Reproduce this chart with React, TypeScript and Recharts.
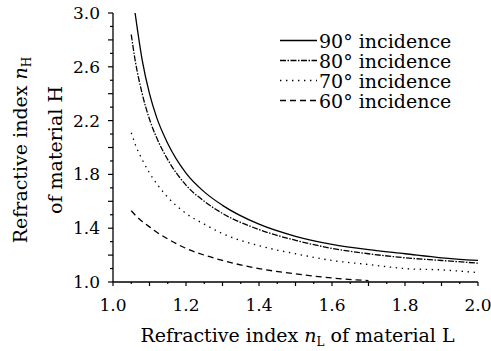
import { LineChart, Line, XAxis, YAxis, Legend, Label } from 'recharts';

// refractive index of material L (x)
const nL = [1.05, 1.06, 1.08, 1.1, 1.12, 1.15, 1.2, 1.25, 1.3, 1.4, 1.5, 1.6, 1.7, 1.8, 1.9, 2.0];

// refractive index of material H needed, per incidence angle
const inc90 = [null, 3.01, 2.65, 2.4, 2.22, 2.03, 1.81, 1.67, 1.57, 1.43, 1.34, 1.28, 1.24, 1.21, 1.18, 1.16];
const inc80 = [2.84, 2.66, 2.4, 2.21, 2.07, 1.91, 1.72, 1.6, 1.51, 1.39, 1.31, 1.25, 1.21, 1.18, 1.16, 1.14];
const inc70 = [2.11, 2.03, 1.91, 1.81, 1.73, 1.63, 1.51, 1.43, 1.36, 1.27, 1.21, 1.16, 1.13, 1.1, 1.09, 1.07];
const inc60 = [1.53, 1.5, 1.45, 1.41, 1.37, 1.32, 1.25, 1.2, 1.16, 1.1, 1.06, 1.03, 1.01, null, null, null];

const xTicks = [1.0, 1.05, 1.1, 1.15, 1.2, 1.25, 1.3, 1.35, 1.4, 1.45, 1.5, 1.55, 1.6, 1.65, 1.7, 1.75, 1.8, 1.85, 1.9, 1.95, 2.0];
const yTicks = [1.0, 1.1, 1.2, 1.3, 1.4, 1.5, 1.6, 1.7, 1.8, 1.9, 2.0, 2.1, 2.2, 2.3, 2.4, 2.5, 2.6, 2.7, 2.8, 2.9, 3.0];

const series = [
  { key: 'inc90', name: '90° incidence', dash: undefined as string | undefined },
  { key: 'inc80', name: '80° incidence', dash: '6 1.5 1.5 1.5' },
  { key: 'inc70', name: '70° incidence', dash: '1.4 4.6' },
  { key: 'inc60', name: '60° incidence', dash: '6 4' },
];

const data = nL.map((x, i) => ({
  nL: x,
  inc90: inc90[i],
  inc80: inc80[i],
  inc70: inc70[i],
  inc60: inc60[i],
}));

const FONT = '"DejaVu Serif", serif';
const near = (v: number, step: number) => Math.abs(v / step - Math.round(v / step)) < 1e-6;

function BottomTick({ x, y, payload }: any) {
  const v = payload.value as number;
  const len = near(v, 0.1) ? 4 : 2;
  return (
    <g>
      <line x1={x} x2={x} y1={y} y2={y + len} stroke="#000" strokeWidth={1.2} />
      {near(v, 0.2) && (
        <text x={x} y={y + 29} textAnchor="middle" fontSize={17} fontFamily={FONT} fill="#000">
          {v.toFixed(1)}
        </text>
      )}
    </g>
  );
}

function TopTick({ x, y, payload }: any) {
  const v = payload.value as number;
  const len = near(v, 0.1) ? 4 : 3;
  return <line x1={x} x2={x} y1={y} y2={y + len} stroke="#000" strokeWidth={1.2} />;
}

function LeftTick({ x, y, payload }: any) {
  const v = payload.value as number;
  const len = near(v, 0.2) ? 5 : 3;
  return (
    <g>
      <line x1={x - len} x2={x} y1={y} y2={y} stroke="#000" strokeWidth={1.2} />
      {near(v - 1, 0.4) && (
        <text x={x - 13} y={y + 6} textAnchor="end" fontSize={17} fontFamily={FONT} fill="#000">
          {v.toFixed(1)}
        </text>
      )}
    </g>
  );
}

function RightTick({ x, y, payload }: any) {
  const v = payload.value as number;
  const len = near(v, 0.2) ? 4 : 3;
  return <line x1={x - len} x2={x} y1={y} y2={y} stroke="#000" strokeWidth={1.2} />;
}

function XTitle({ viewBox }: any) {
  const vb = viewBox || { x: 113, y: 282, width: 365 };
  return (
    <text x={vb.x + vb.width / 2 + 2} y={vb.y + 60} textAnchor="middle" fontSize={19} fontFamily={FONT} fill="#000">
      Refractive index <tspan fontStyle="italic">n</tspan>
      <tspan fontSize={12} dy={4}>L</tspan>
      <tspan dy={-4}> of material L</tspan>
    </text>
  );
}

function YTitle() {
  const cy = 150;
  return (
    <g fontSize={19} fontFamily={FONT} fill="#000">
      <text x={27} y={cy} textAnchor="middle" transform={`rotate(-90, 27, ${cy})`}>
        Refractive index <tspan fontStyle="italic">n</tspan>
        <tspan fontSize={12} dy={4}>H</tspan>
      </text>
      <text x={62} y={cy} textAnchor="middle" transform={`rotate(-90, 62, ${cy})`}>
        of material H
      </text>
    </g>
  );
}

function LegendBox() {
  return (
    <div style={{ fontFamily: FONT, fontSize: 19, lineHeight: '20px', color: '#000' }}>
      {series.map((s) => (
        <div key={s.key} style={{ display: 'flex', alignItems: 'flex-start', height: 20 }}>
          <svg width={40} height={20} style={{ display: 'block' }}>
            <line x1={1} x2={38} y1={9.5} y2={9.5} stroke="#000" strokeWidth={1.3} strokeDasharray={s.dash} />
          </svg>
          <span style={{ whiteSpace: 'nowrap' }}>{s.name}</span>
        </div>
      ))}
    </div>
  );
}

export default function App() {
  return (
    <div style={{ position: 'absolute', left: 0, top: 0, width: 491, height: 351, background: '#fff' }}>
      <LineChart width={491} height={351} data={data} margin={{ top: 13, right: 13, bottom: 0, left: 0 }}>
        <XAxis
          dataKey="nL"
          type="number"
          domain={[1, 2]}
          ticks={xTicks}
          interval={0}
          height={69}
          tickSize={0}
          tickMargin={0}
          tickLine={false}
          tick={BottomTick}
          axisLine={{ stroke: '#000', strokeWidth: 1.3 }}
        >
          <Label content={XTitle} />
        </XAxis>
        <XAxis
          xAxisId="top"
          orientation="top"
          dataKey="nL"
          type="number"
          domain={[1, 2]}
          ticks={xTicks}
          interval={0}
          height={0}
          tickSize={0}
          tickMargin={0}
          tickLine={false}
          tick={TopTick}
          axisLine={{ stroke: '#000', strokeWidth: 1.3 }}
        />
        <YAxis
          type="number"
          domain={[1, 3]}
          allowDataOverflow
          ticks={yTicks}
          interval={0}
          width={113}
          tickSize={0}
          tickMargin={0}
          tickLine={false}
          tick={LeftTick}
          axisLine={{ stroke: '#000', strokeWidth: 1.3 }}
        >
          <Label content={YTitle} />
        </YAxis>
        <YAxis
          yAxisId="right"
          orientation="right"
          type="number"
          domain={[1, 3]}
          ticks={yTicks}
          interval={0}
          width={0}
          tickSize={0}
          tickMargin={0}
          tickLine={false}
          tick={RightTick}
          axisLine={{ stroke: '#000', strokeWidth: 1.3 }}
        />
        {series.map((s) => (
          <Line
            key={s.key}
            dataKey={s.key}
            name={s.name}
            type="monotone"
            stroke="#000"
            strokeWidth={1.3}
            strokeDasharray={s.dash}
            dot={false}
            activeDot={false}
            isAnimationActive={false}
          />
        ))}
        <Legend
          layout="vertical"
          align="center"
          verticalAlign="middle"
          content={LegendBox}
          wrapperStyle={{ position: 'absolute', left: 279, top: 31, width: 200 }}
        />
      </LineChart>
    </div>
  );
}
